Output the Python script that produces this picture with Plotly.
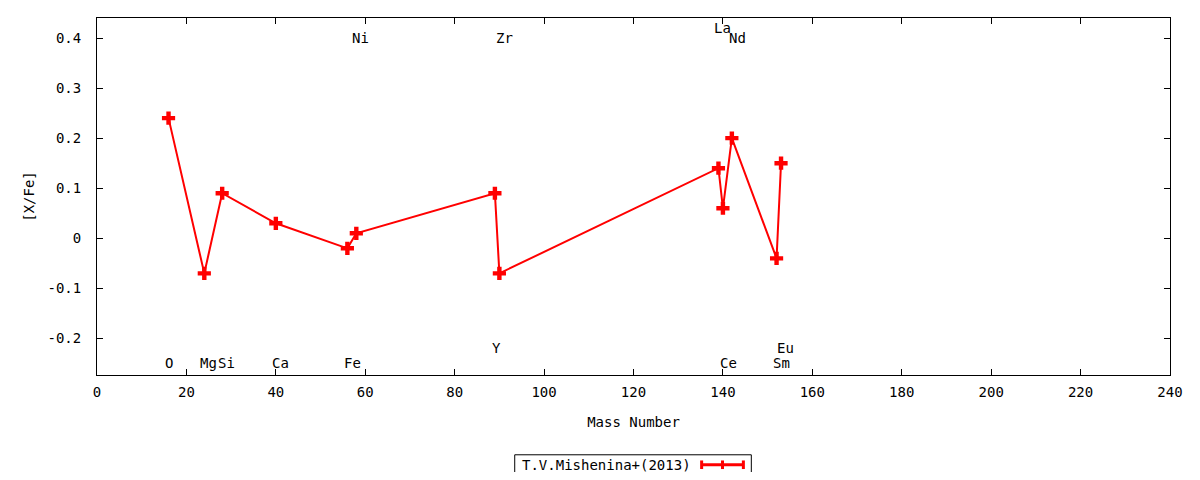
import plotly.graph_objs as go

# abundance pattern, T.V.Mishenina+(2013)
elements = ['O', 'Mg', 'Si', 'Ca', 'Fe', 'Ni', 'Y', 'Zr', 'La', 'Ce', 'Nd', 'Sm', 'Eu']
mass = [16, 24, 28, 40, 56, 58, 89, 90, 139, 140, 142, 152, 153]
xfe = [0.24, -0.07, 0.09, 0.03, -0.02, 0.01, 0.09, -0.07, 0.14, 0.06, 0.20, -0.04, 0.15]

# where gnuplot put the element names
label_x = [16.2, 24.9, 28.9, 41.1, 57.2, 58.9, 89.4, 91.2, 140.0, 141.2, 143.2, 153.2, 154.0]
label_y = [-0.25, -0.25, -0.25, -0.25, -0.25, 0.40, -0.22, 0.40, 0.42, -0.25, 0.40, -0.25, -0.22]

xticks = list(range(0, 241, 20))
yticks = [-0.2, -0.1, 0, 0.1, 0.2, 0.3, 0.4]
ytick_text = ['-0.2', '-0.1', '0', '0.1', '0.2', '0.3', '0.4']

series_name = 'T.V.Mishenina+(2013)'

FONT = 'DejaVu Sans Mono'
RED = '#ff0000'

fig = go.Figure()
fig.add_trace(go.Scatter(
    x=mass, y=xfe, mode='lines+markers', name=series_name,
    line=dict(color=RED, width=2),
    marker=dict(symbol='cross', size=11, color=RED),
    showlegend=False,
))

for el, lx, ly in zip(elements, label_x, label_y):
    fig.add_annotation(x=lx, y=ly, xref='x', yref='y', text=el, showarrow=False,
                       xanchor='center', yanchor='middle',
                       font=dict(family=FONT, size=14, color='black'))

# gnuplot-style key: box, text, then sample
kx0, kx1, ky0, ky1 = 0.3893, 0.6098, -0.2235, -0.2793
fig.add_shape(type='rect', xref='paper', yref='paper', x0=kx0, x1=kx1, y0=ky0, y1=ky1,
              line=dict(color='black', width=1))
fig.add_annotation(x=0.5556, y=(ky0 + ky1) / 2, xref='paper', yref='paper',
                   text=series_name, showarrow=False, xanchor='right', yanchor='middle',
                   font=dict(family=FONT, size=14, color='black'))
sx0, sx1, sy = 0.5635, 0.6024, (ky0 + ky1) / 2
fig.add_shape(type='line', xref='paper', yref='paper', x0=sx0, x1=sx1, y0=sy, y1=sy,
              line=dict(color=RED, width=3))
for sx in (sx0, sx1, (sx0 + sx1) / 2):
    fig.add_shape(type='line', xref='paper', yref='paper', x0=sx, x1=sx,
                  y0=sy - 0.012, y1=sy + 0.012, line=dict(color=RED, width=3))

axis_common = dict(
    showline=True, linecolor='black', linewidth=1, mirror='allticks',
    ticks='inside', ticklen=6, tickcolor='black', showgrid=False, zeroline=False,
    tickfont=dict(family=FONT, size=14, color='black'),
)

# page body has an 8px margin, so the figure is a bit smaller and shifted
fig.update_layout(
    width=1184, height=464,
    margin=dict(l=89, r=16, t=9, b=97),
    plot_bgcolor='white', paper_bgcolor='white',
    font=dict(family=FONT, size=14, color='black'),
    xaxis=dict(range=[0, 240], tickvals=xticks, ticklabelstandoff=4,
               title=dict(text='Mass Number', standoff=18,
                          font=dict(family=FONT, size=14, color='black')),
               **axis_common),
    yaxis=dict(range=[-0.273, 0.44], tickvals=yticks, ticktext=ytick_text,
               ticklabelstandoff=12,
               title=dict(text='[X/Fe]', standoff=9,
                          font=dict(family=FONT, size=14, color='black')),
               **axis_common),
)

fig.write_html("out.html")
